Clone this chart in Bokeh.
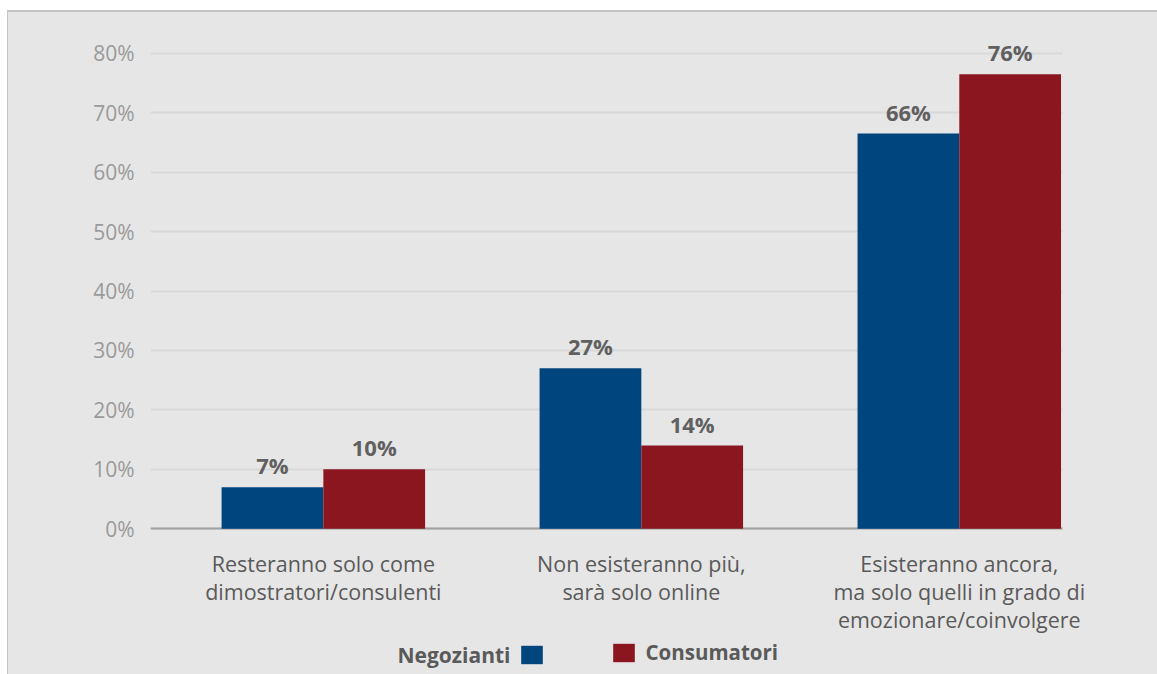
from bokeh.plotting import figure
from bokeh.models import (ColumnDataSource, FixedTicker, PrintfTickFormatter, Range1d,
                          Legend, LegendItem, Label, Grid)
from bokeh.core.properties import value
from bokeh.embed import file_html
from bokeh.resources import INLINE

# ---- data ----
categories = [
    "Resteranno solo come\ndimostratori/consulenti",
    "Non esisteranno più,\nsarà solo online",
    "Esisteranno ancora,\nma solo quelli in grado di\nemozionare/coinvolgere",
]
negozianti = [7, 27, 66.5]
consumatori = [10, 14, 76.5]
series_names = ["Negozianti", "Consumatori"]
y_ticks = [0, 10, 20, 30, 40, 50, 60, 70, 80]

# ---- style ----
FONT = "Open Sans"
BG = "#e6e6e6"
BLUE = "#00457e"
RED = "#8b1620"
BAR_W = 0.32
X_START, X_END = -0.5436, 2.6265
PLOT_AREA_END = 2.325   # right end of grid / axis line, in category units

idx = list(range(len(categories)))

p = figure(width=1149, height=662, output_backend="svg", toolbar_location=None,
           x_range=Range1d(X_START, X_END), y_range=Range1d(-24.86, 86.87),
           min_border_left=142, min_border_right=0, min_border_top=0,
           min_border_bottom=0)
p.styles = {"box-sizing": "content-box",
            "margin-top": "10px", "border-top": "2px solid #c4c4c4",
            "margin-left": "7px", "border-left": "1px solid #c4c4c4",
            "background-color": BG}
p.background_fill_color = None
p.border_fill_color = BG
p.outline_line_color = None
p.xaxis.visible = False

src_n = ColumnDataSource(dict(x=[i - BAR_W / 2 for i in idx], top=negozianti,
                              lab=[f"{int(v)}%" for v in negozianti]))
src_c = ColumnDataSource(dict(x=[i + BAR_W / 2 for i in idx], top=consumatori,
                              lab=[f"{int(v)}%" for v in consumatori]))
src_cat = ColumnDataSource(dict(x=idx, y=[0] * len(idx), text=categories))

# grid (limited to the plot area) and the category axis line at 0 %
p.xgrid.grid_line_color = None
p.ygrid.ticker = FixedTicker(ticks=y_ticks)
p.ygrid.grid_line_color = "#d8d8d8"
p.ygrid.grid_line_width = 2
p.ygrid.cross_bounds = (X_START, PLOT_AREA_END)
p.add_layout(Grid(dimension=1, ticker=FixedTicker(ticks=[0]), cross_bounds=(X_START, PLOT_AREA_END),
                  grid_line_color="#a0a0a0", grid_line_width=2))

r_n = p.vbar(x="x", top="top", width=BAR_W, source=src_n, fill_color=BLUE, line_color=None)
r_c = p.vbar(x="x", top="top", width=BAR_W, source=src_c, fill_color=RED, line_color=None)

for src in (src_n, src_c):
    p.text(x="x", y="top", text="lab", source=src, text_align="center",
           text_baseline="bottom", y_offset=-7, text_font=value(FONT),
           text_font_style="bold", text_font_size="22px", text_color="#606060")

# category labels under the axis line
p.text(x="x", y="y", text="text", source=src_cat, text_align="center",
       text_baseline="top", y_offset=20, text_font=value(FONT),
       text_font_size="21.5px", text_color="#5a5a5a", text_line_height=0.97)

# y axis
ya = p.yaxis[0]
ya.ticker = FixedTicker(ticks=y_ticks)
ya.formatter = PrintfTickFormatter(format="%d%%")
ya.axis_line_color = None
ya.major_tick_line_color = None
ya.minor_tick_line_color = None
ya.major_tick_out = 0
ya.minor_tick_out = 0
ya.major_label_standoff = 16
ya.major_label_text_font = FONT
ya.major_label_text_font_size = "21px"
ya.major_label_text_color = "#9a9a9a"

# legend: "Negozianti ■     ■ Consumatori"
p.add_layout(Label(x=360, y=21.5, x_units="screen", y_units="screen",
                   text=series_names[0], text_align="right", text_baseline="middle",
                   text_font=FONT, text_font_style="bold", text_font_size="21px",
                   text_color="#5a5a5a"))


def make_legend(items, loc, standoff):
    return Legend(items=items, location=loc, orientation="horizontal",
                  glyph_width=27, glyph_height=23, label_height=23, label_width=1,
                  label_standoff=standoff, padding=0, margin=0, spacing=0,
                  border_line_color=None, background_fill_alpha=0,
                  label_text_font=FONT, label_text_font_style="bold",
                  label_text_font_size="20.5px", label_text_color="#5a5a5a")


p.add_layout(make_legend([LegendItem(label=" ", renderers=[r_n])], (368, 10), 0))
p.add_layout(make_legend([LegendItem(label=series_names[1], renderers=[r_c])], (459.5, 10), 9))

open("out.html", "w").write(file_html(p, INLINE))
